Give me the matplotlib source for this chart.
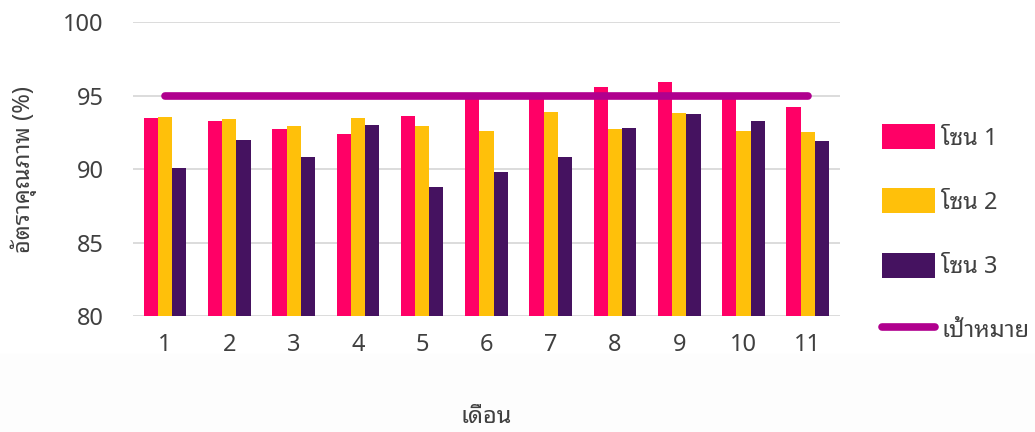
import numpy as np
import matplotlib
matplotlib.use('Agg')
import matplotlib.pyplot as plt
from matplotlib import font_manager

# pick a Thai font (looped style like the original)
names = set(f.name for f in font_manager.fontManager.ttflist)
thai = 'DejaVu Sans'
for c in ['Noto Sans Thai Looped', 'Sarabun', 'Noto Sans Thai', 'IBM Plex Sans Thai']:
    if c in names:
        thai = c
        break
plt.rcParams['font.family'] = [thai, 'DejaVu Sans']
plt.rcParams['font.weight'] = 'light'

months = ['1', '2', '3', '4', '5', '6', '7', '8', '9', '10', '11']
zone1 = [93.5, 93.3, 92.7, 92.4, 93.6, 95.0, 95.0, 95.6, 95.9, 95.0, 94.2]
zone2 = [93.55, 93.4, 92.9, 93.5, 92.9, 92.6, 93.9, 92.7, 93.8, 92.6, 92.5]
zone3 = [90.05, 91.95, 90.85, 93.0, 88.8, 89.8, 90.8, 92.8, 93.75, 93.25, 91.9]
target = [95] * 11
series_names = ['โซน 1', 'โซน 2', 'โซน 3']
target_name = 'เป้าหมาย'

fig = plt.figure(figsize=(10.35, 4.32), dpi=100)
# very light band at the bottom like the screenshot
fig.patches.append(plt.Rectangle((0, 0), 1, 0.18, transform=fig.transFigure,
                                 color='#fdfdfd', zorder=-10))
ax = fig.add_axes([0.1285, 0.2685, 0.683, 0.6805])

x = np.arange(1, 12)
w = 0.221
cols = ['#ff0066', '#ffc00a', '#451260']
bars = []
for k, (vals, c) in enumerate(zip([zone1, zone2, zone3], cols)):
    b = ax.bar(x + (k - 1) * w, vals, w, color=c, label=series_names[k], zorder=2)
    bars.append(b)
line, = ax.plot(x, target, color='#b0008e', lw=5.5, solid_capstyle='round',
                label=target_name, zorder=3)

ax.set_xlim(0.5, 11.5)
ax.set_ylim(80, 100)
ax.set_yticks([80, 85, 90, 95, 100])
ax.set_xticks(x)
ax.set_xticklabels(months)
ax.grid(axis='y', color='#d9d9d9', lw=1.3, zorder=0)
ax.set_axisbelow(True)
for s in ax.spines.values():
    s.set_visible(False)
ax.tick_params(length=0, labelsize=17, labelcolor='#404040')
ax.tick_params(axis='y', pad=21)
ax.tick_params(axis='x', pad=12)
ax.set_xlabel('เดือน', fontsize=17, color='#404040', labelpad=35)
ax.set_ylabel('อัตราคุณภาพ (%)', fontsize=17, color='#404040', labelpad=19)

leg = ax.legend(bars + [line], series_names + [target_name],
                loc='center left', bbox_to_anchor=(1.03, 0.28), frameon=False,
                fontsize=17, handlelength=2.25, handleheight=1.25,
                labelspacing=1.6, handletextpad=0.25)
for t in leg.get_texts():
    t.set_color('#404040')

fig.savefig('out.png', dpi=100)
